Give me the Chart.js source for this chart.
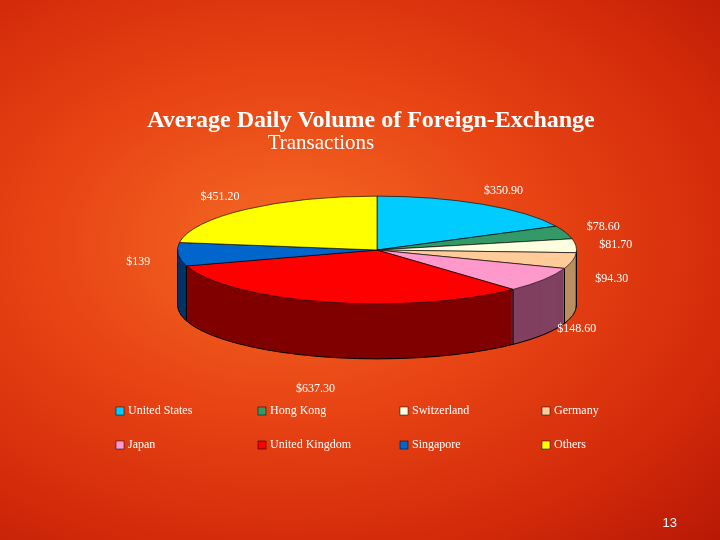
<!DOCTYPE html>
<html><head><meta charset="utf-8">
<script src="https://cdn.jsdelivr.net/npm/chart.js@4/dist/chart.umd.min.js"></script>
<style>
html,body{margin:0;padding:0;width:720px;height:540px;overflow:hidden;}
body{background:radial-gradient(ellipse at 40% 45%, #f56a24 0%, #e84414 40%, #d22a0a 75%, #b81806 100%);}
#wrap{position:absolute;left:0;top:0;width:720px;height:540px;}
</style></head><body>
<div id="wrap"><canvas id="c" width="720" height="540"></canvas></div>
<script>
const categories=["United States","Hong Kong","Switzerland","Germany","Japan","United Kingdom","Singapore","Others"];
const values=[350.90,78.60,81.70,94.30,148.60,637.30,139,451.20];
const valueLabels=["$350.90","$78.60","$81.70","$94.30","$148.60","$637.30","$139","$451.20"];
const colors=["#00ccff","#339966","#ffffe0","#ffcc99","#ff99cc","#ff0000","#0066cc","#ffff00"];
const sideColors=["#0090b8","#1f6644","#b8b8a0","#b89060","#804060","#800000","#003366","#a0a000"];
const TILT=0.27, DEPTH=55;

const tilt={id:'tilt',
 beforeDatasetsDraw(chart){
  const ctx=chart.ctx, meta=chart.getDatasetMeta(0);
  const cx=meta.data[0].x, cy=meta.data[0].y;
  for(let d=DEPTH; d>=1; d--){
    ctx.save();
    ctx.translate(0,d); ctx.translate(cx,cy); ctx.scale(1,TILT); ctx.translate(-cx,-cy);
    meta.data.forEach((el,i)=>{
      ctx.beginPath();ctx.moveTo(el.x,el.y);
      ctx.arc(el.x,el.y,el.outerRadius,el.startAngle,el.endAngle);ctx.closePath();
      ctx.fillStyle=sideColors[i];ctx.fill();
    });
    ctx.restore();
  }
  ctx.save();ctx.strokeStyle='#000';ctx.lineWidth=1;
  const r=meta.data[0].outerRadius;
  ctx.beginPath();ctx.ellipse(cx,cy+DEPTH,r,r*TILT,0,0,Math.PI);ctx.stroke();
  meta.data.forEach(el=>{
    const a=el.startAngle,s=Math.sin(a);
    if(s>=0){const x=cx+Math.cos(a)*r,y=cy+s*r*TILT;ctx.beginPath();ctx.moveTo(x,y);ctx.lineTo(x,y+DEPTH);ctx.stroke();}
  });
  ctx.beginPath();ctx.moveTo(cx-r,cy);ctx.lineTo(cx-r,cy+DEPTH);ctx.moveTo(cx+r,cy);ctx.lineTo(cx+r,cy+DEPTH);ctx.stroke();
  ctx.restore();
  ctx.save();ctx.translate(cx,cy);ctx.scale(1,TILT);ctx.translate(-cx,-cy);
 },
 afterDatasetsDraw(chart){
  const ctx=chart.ctx;ctx.restore();
  const meta=chart.getDatasetMeta(0);
  ctx.save();ctx.fillStyle='#fff';ctx.font='12px "Liberation Serif"';ctx.textBaseline='middle';ctx.textAlign='center';
  meta.data.forEach((el,i)=>{
    const a=(el.startAngle+el.endAngle)/2,c=Math.cos(a),s=Math.sin(a);
    const x=el.x+c*el.outerRadius*1.2, y=el.y+s*el.outerRadius*TILT*1.3+(s>0?DEPTH*s*1.34:0);
    ctx.fillText(valueLabels[i],x,y);
  });
  ctx.font='bold 24px "Liberation Serif"';
  ctx.fillText('Average Daily Volume of Foreign-Exchange',371,121);
  ctx.font='21px "Liberation Serif"';ctx.fillText('Transactions',321,143);
  ctx.font='12px "Liberation Serif"';ctx.textAlign='left';
  categories.forEach((n,i)=>{
    const col=i%4,row=Math.floor(i/4);
    const x=116+col*142,y=411+row*34;
    ctx.fillStyle=colors[i];ctx.fillRect(x,y-4,8,8);ctx.strokeStyle='#000';ctx.lineWidth=0.5;ctx.strokeRect(x,y-4,8,8);
    ctx.fillStyle='#fff';ctx.fillText(n,x+12,y);
  });
  ctx.font='13px "Liberation Sans"';ctx.textAlign='right';ctx.fillText('13',677,523);
  ctx.restore();
 }};

new Chart(document.getElementById('c'),{
 type:'pie',
 data:{labels:categories,datasets:[{data:values,backgroundColor:colors,borderColor:'#000',borderWidth:1}]},
 options:{responsive:false,animation:false,
  layout:{padding:{left:177,right:143,top:50,bottom:90}},
  plugins:{legend:{display:false},tooltip:{enabled:false}}},
 plugins:[tilt]
});
</script></body></html>
